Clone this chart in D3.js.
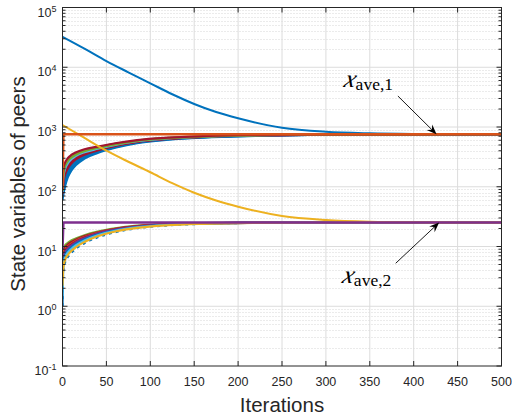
<!DOCTYPE html>
<html><head><meta charset="utf-8">
<script src="https://cdn.jsdelivr.net/npm/d3@7"></script>
<style>body{margin:0;background:#fff}svg{display:block}</style>
</head><body><svg id="c" width="512" height="419"></svg>
<script>
// ---------- data ----------
const tMain = [0,25,50,75,100,125,150,175,200,250,300,350,400,450,500];
const peer1Var1 = [32400,20500,12700,8230,5390,3530,2430,1780,1400,973,834,785,765,758,756];
const peer1Var2 = [1080,655,401,262,175,115,79.5,59,46.4,32.4,27.8,26.0,25.4,25.25,25.2];

const tAve = [0,1,500];
const aveVar1 = [88,755,755];
const aveVar2 = [9,25.2,25.2];

const tBundle = [0,1,3,6,10,15,25,40,60,85,120,160,220,300,400,500];
// upper bundle (first state variable of the other peers)
const upDarkRedA = [92,205,255,300,340,375,425,470,535,605,663,702,736,750,755,755];
const upGreenA   = [88,185,240,285,325,360,410,458,522,595,656,698,733,750,755,755];
const upGreenB   = [85,165,222,268,308,343,395,446,512,587,650,694,730,749,755,755];
const upLightBlue= [82,148,200,246,288,325,378,432,500,578,644,690,727,749,755,755];
const upDarkRedB = [78,130,180,224,266,305,360,418,490,570,638,686,724,748,755,755];
const upDarkRedC = [75,115,160,203,245,286,344,404,480,562,632,682,721,748,755,755];
const upBlueA    = [70,100,140,183,225,266,328,392,470,554,626,677,718,747,755,755];
const upBlueB    = [65,88,122,163,205,247,312,380,460,546,619,671,714,746,755,755];
const upBlueC    = [60,75,103,143,185,228,296,368,450,538,612,665,710,745,755,755];
// lower bundle (second state variable of the other peers)
const loBlueDash = [1.0,4,5.4,6.6,7.8,9.1,11.3,14.2,17.3,20.2,22.5,23.9,24.8,25.2,25.2,25.2];
const loGreen    = [6,9.5,10.5,11.5,12.6,13.6,15.4,17.7,20.1,22.3,23.9,24.7,25.05,25.2,25.2,25.2];
const loDarkRed  = [5.5,8.5,9.7,10.8,11.9,13.0,14.9,17.3,19.8,22.0,23.7,24.6,25.0,25.2,25.2,25.2];
const loOrange   = [5,7.8,9.0,10.1,11.2,12.4,14.4,16.9,19.5,21.8,23.55,24.5,25.0,25.2,25.2,25.2];
const loRedB     = [4.5,7.0,8.4,9.6,10.8,12.0,14.1,16.7,19.35,21.7,23.5,24.45,24.98,25.2,25.2,25.2];
const loPurple   = [3,6.5,8.0,9.2,10.4,11.7,13.8,16.5,19.2,21.6,23.4,24.4,24.95,25.2,25.2,25.2];
const loBlue     = [1.0,5.5,7.2,8.5,9.7,11.0,13.2,15.9,18.7,21.2,23.2,24.3,24.9,25.2,25.2,25.2];
const loLightBlue= [1.5,5.0,6.6,7.9,9.1,10.4,12.6,15.4,18.3,20.9,23.0,24.2,24.9,25.2,25.2,25.2];
const loYellow   = [2.2,4.5,6.0,7.2,8.4,9.7,11.9,14.8,17.8,20.5,22.7,24.0,24.85,25.2,25.2,25.2];

const xTicks = [0,50,100,150,200,250,300,350,400,450,500];
const yTickExps = [-1,0,1,2,3,4,5];
const xLabel = "Iterations";
const yLabel = "State variables of peers";
// annotations: text anchor, arrow tail, arrow tip (iteration, value)
const annText = ["ave,1","ave,2"];
const annTextPos = [[319.5,4720],[317.5,2.42]];
const annTail = [[382,3300],[379.5,5.24]];
const annTip = [[426,755],[429,25.2]];

// ---------- drawing ----------
const C = {blue:"#0072BD",orange:"#D95319",yellow:"#EDB120",purple:"#7E2F8E",
           green:"#77AC30",lblue:"#4DBEEE",dred:"#A2142F"};
const L = 62.5, R = 501.5, T = 7.5, B = 366;
const x = d3.scaleLinear().domain([0,500]).range([L,R]);
const y = d3.scaleLog().domain([0.1,1e5]).range([B,T]);
const svg = d3.select("#c");
const ax = "#262626";

// grid
const g = svg.append("g");
const minorVals = [];
for (let e=-1;e<5;e++) for (let k=2;k<=9;k++) minorVals.push(k*Math.pow(10,e));
g.selectAll(".mg").data(minorVals).enter().append("line")
  .attr("x1",L).attr("x2",R).attr("y1",d=>Math.round(y(d))+0.5).attr("y2",d=>Math.round(y(d))+0.5)
  .attr("stroke","#cdcdcd").attr("stroke-width",0.8).attr("stroke-dasharray","1,2");
g.selectAll(".gy").data(yTickExps.slice(1,-1)).enter().append("line")
  .attr("x1",L).attr("x2",R).attr("y1",d=>y(Math.pow(10,d))).attr("y2",d=>y(Math.pow(10,d)))
  .attr("stroke","#dcdcdc").attr("stroke-width",1);
g.selectAll(".gx").data(xTicks.slice(1,-1)).enter().append("line")
  .attr("y1",T).attr("y2",B).attr("x1",d=>x(d)).attr("x2",d=>x(d))
  .attr("stroke","#dcdcdc").attr("stroke-width",1);

// clip
svg.append("clipPath").attr("id","cp").append("rect")
  .attr("x",L).attr("y",T).attr("width",R-L).attr("height",B-T);
const plot = svg.append("g").attr("clip-path","url(#cp)");

function draw(ts, vals, color, w, dash, curve){
  const line = d3.line().x((d,i)=>x(ts[i])).y(d=>y(d)).curve(curve||d3.curveMonotoneX);
  const p = plot.append("path").datum(vals).attr("d",line).attr("fill","none")
    .attr("stroke",color).attr("stroke-width",w).attr("stroke-linejoin","round");
  if (dash) p.attr("stroke-dasharray",dash);
}
// lower bundle
draw(tBundle, loBlueDash, C.blue, 2, "3,4");
[[loGreen,C.green],[loDarkRed,C.dred],[loOrange,C.orange],[loRedB,C.dred],[loPurple,C.purple],
 [loBlue,C.blue],[loLightBlue,C.lblue],[loYellow,C.yellow]]
 .forEach(([v,c])=>draw(tBundle, v, c, 2.2));
// upper bundle
[[upBlueC,C.blue],[upBlueB,C.blue],[upBlueA,C.blue],[upDarkRedC,C.dred],[upDarkRedB,C.dred],
 [upLightBlue,C.lblue],[upGreenB,C.green],[upGreenA,C.green],[upDarkRedA,C.dred]]
 .forEach(([v,c])=>draw(tBundle, v, c, 2.2));
// peer 1
draw(tMain, peer1Var1, C.blue, 2);
draw(tMain, peer1Var2, C.yellow, 2);
// averages
draw(tAve, aveVar1, C.orange, 2.5, null, d3.curveLinear);
draw(tAve, aveVar2, C.purple, 2.5, null, d3.curveLinear);

// axes box
const a = svg.append("g").attr("stroke",ax).attr("stroke-width",1).attr("fill","none");
a.append("rect").attr("x",L).attr("y",T).attr("width",R-L).attr("height",B-T);
xTicks.forEach(t=>{
  a.append("line").attr("x1",x(t)).attr("x2",x(t)).attr("y1",B).attr("y2",B-5);
  a.append("line").attr("x1",x(t)).attr("x2",x(t)).attr("y1",T).attr("y2",T+5);
});
yTickExps.forEach(e=>{
  const yy = y(Math.pow(10,e));
  a.append("line").attr("x1",L).attr("x2",L+5).attr("y1",yy).attr("y2",yy);
  a.append("line").attr("x1",R).attr("x2",R-5).attr("y1",yy).attr("y2",yy);
});
minorVals.forEach(v=>{
  const yy = y(v);
  a.append("line").attr("x1",L).attr("x2",L+3).attr("y1",yy).attr("y2",yy);
  a.append("line").attr("x1",R).attr("x2",R-3).attr("y1",yy).attr("y2",yy);
});

// tick labels
const font = "'Liberation Sans', Arial, Helvetica, sans-serif";
svg.selectAll(".xl").data(xTicks).enter().append("text")
  .attr("x",d=>x(d)).attr("y",B+19.5).attr("text-anchor","middle")
  .attr("font-family",font).attr("font-size",12.5).attr("fill",ax).text(d=>d);
yTickExps.forEach(e=>{
  const yy = y(Math.pow(10,e));
  const t = svg.append("text").attr("x",L-6).attr("y",yy+9.2).attr("text-anchor","end")
    .attr("font-family",font).attr("fill",ax);
  t.append("tspan").attr("font-size",12.5).text("10");
  t.append("tspan").attr("font-size",9).attr("dy",-5).text(e<0 ? "-"+Math.abs(e) : e);
});

// axis labels
svg.append("text").attr("x",(L+R)/2).attr("y",411.5).attr("text-anchor","middle")
  .attr("font-family",font).attr("font-size",20.5).attr("fill",ax).text(xLabel);
svg.append("text").attr("transform","translate(25,184) rotate(-90)").attr("text-anchor","middle")
  .attr("font-family",font).attr("font-size",20.5).attr("fill",ax).text(yLabel);

// annotations
const serif = "'Liberation Serif', 'Times New Roman', serif";
annText.forEach((s,i)=>{
  const px = x(annTextPos[i][0]), py = y(annTextPos[i][1]);
  const xt = svg.append("text").attr("transform",`translate(${px},${py}) skewX(-16)`)
    .attr("font-family",serif).attr("font-style","italic").attr("font-size",25).attr("fill","#000").text("x");
  const w = xt.node().getComputedTextLength();
  svg.append("text").attr("x",px+w+1.5).attr("y",py+3)
    .attr("font-family",serif).attr("font-size",17.5).attr("fill","#000").text(s);
  const x1=x(annTail[i][0]), y1=y(annTail[i][1]), x2=x(annTip[i][0]), y2=y(annTip[i][1]);
  const ang = Math.atan2(y2-y1,x2-x1), len=10, hw=4;
  const bx = x2-len*Math.cos(ang), by = y2-len*Math.sin(ang);
  svg.append("line").attr("x1",x1).attr("y1",y1).attr("x2",x2-6*Math.cos(ang)).attr("y2",y2-6*Math.sin(ang))
    .attr("stroke","#000").attr("stroke-width",0.9);
  const nx = -Math.sin(ang), ny = Math.cos(ang);
  const nxp = x2-0.65*len*Math.cos(ang), nyp = y2-0.65*len*Math.sin(ang);
  svg.append("path").attr("d",`M${x2},${y2}L${bx+nx*hw},${by+ny*hw}L${nxp},${nyp}L${bx-nx*hw},${by-ny*hw}Z`)
    .attr("fill","#000");
});
</script></body></html>
